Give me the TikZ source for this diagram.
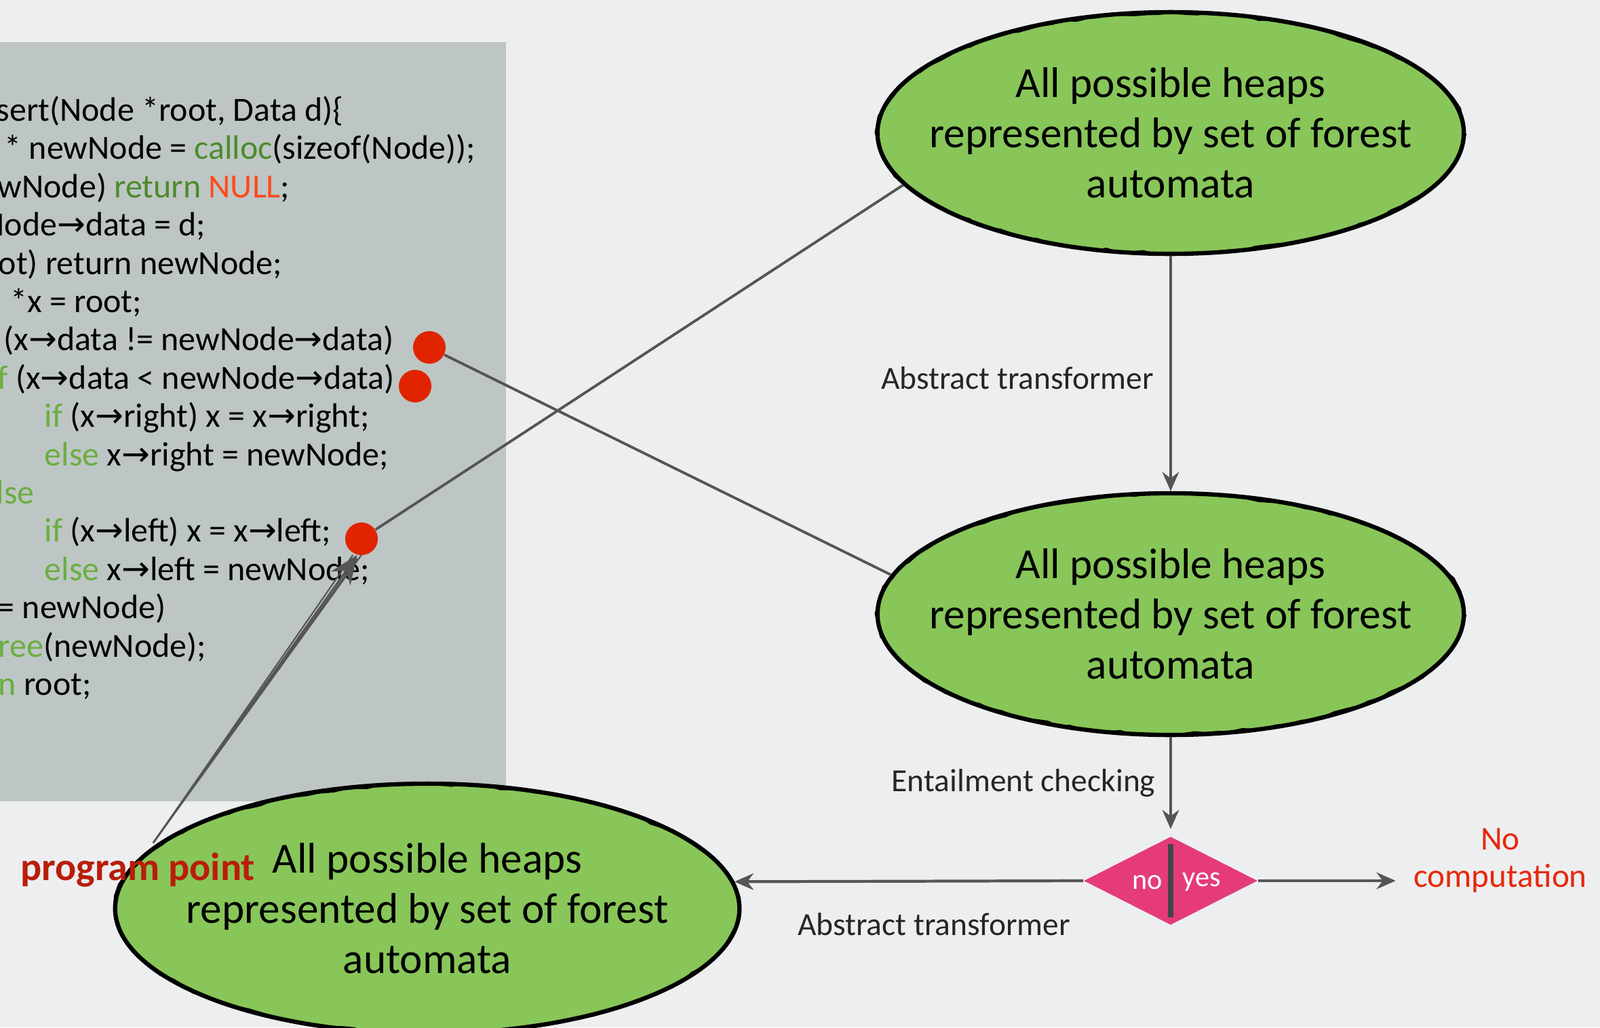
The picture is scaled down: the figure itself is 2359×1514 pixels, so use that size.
\documentclass[tikz,border=0pt]{standalone}
\usepackage{fontspec}
\setmainfont{Carlito}
\newfontfamily\arrowfont{DejaVu Sans}
\usetikzlibrary{shapes.geometric, arrows.meta, decorations.pathmorphing, positioning}
\definecolor{slidebg}{HTML}{EDEEF0}
\definecolor{codebg}{HTML}{BDC6C4}
\definecolor{heapgreen}{HTML}{88C659}
\definecolor{checkpink}{HTML}{E53B7A}
\definecolor{dotred}{HTML}{E12400}
\definecolor{linegray}{HTML}{555555}
\definecolor{kwgreen}{HTML}{6AAE3F}
\definecolor{fungreen}{HTML}{4E8A2C}
\definecolor{nullred}{HTML}{FF4B1F}
\definecolor{ppred}{HTML}{B81E0A}
\definecolor{nored}{HTML}{E8280A}
\newcommand{\pto}{{\arrowfont →}}
\newcommand{\kw}[1]{\textcolor{kwgreen}{#1}}

\begin{document}
\begin{tikzpicture}[x=0.01cm, y=-0.01cm,
  heapnode/.style={ellipse, draw=black, line width=1.8pt, fill=heapgreen, minimum width=8.64cm, minimum height=3.56cm},
  heaptext/.style={align=center, font=\fontsize{18}{21}\selectfont},
  roughline/.style={draw=black, line width=0.9pt, decorate, decoration={random steps, segment length=5pt, amplitude=0.7pt}},
  codeline/.style={anchor=mid west, inner sep=0pt, font=\fontsize{14.2}{16}\selectfont},
  bpdot/.style={circle, fill=dotred, minimum size=0.48cm, inner sep=0pt},
  linkline/.style={draw=linegray, line width=1.1pt},
  flowarrow/.style={draw=linegray, line width=1.2pt, -{Stealth[length=8pt, width=7pt]}},
  notelabel/.style={font=\fontsize{13.5}{16}\selectfont, text=black!85},
  brush/.style={draw=linegray, line width=0.6pt},
]
\fill[slidebg] (0,0) rectangle (2359,1514);
\useasboundingbox (0,0) rectangle (2359,1514);
\clip (0,0) rectangle (2359,1514);

% code panel
\fill[codebg] (0,62) rectangle (746,1181);
\node[codeline] (c1) at (-6,170) {sert(Node *root, Data d)\{};
\node[codeline] (c2) at (6,226) {* newNode = \textcolor{fungreen}{calloc}(sizeof(Node));};
\node[codeline] (c3) at (-4,283) {wNode) \textcolor{fungreen}{return} \textcolor{nullred}{NULL};};
\node[codeline] (c4) at (-26,339) {Node\pto data = d;};
\node[codeline] (c5) at (-3,396) {ot) return newNode;};
\node[codeline] (c6) at (15,452) {*x = root;};
\node[codeline] (c7) at (5,508) {(x\pto data != newNode\pto data)};
\node[codeline] (c8) at (-4,565) {\kw{f} (x\pto data < newNode\pto data)};
\node[codeline] (c9) at (65,621) {\kw{if} (x\pto right) x = x\pto right;};
\node[codeline] (c10) at (65,678) {\kw{else} x\pto right = newNode;};
\node[codeline] (c11) at (-6,734) {\kw{lse}};
\node[codeline] (c12) at (65,790) {\kw{if} (x\pto left) x = x\pto left;};
\node[codeline] (c13) at (65,847) {\kw{else} x\pto left = newNode;};
\node[codeline] (c14) at (-4,903) {= newNode)};
\node[codeline] (c15) at (-3,960) {\kw{ree}(newNode);};
\node[codeline] (c16) at (-3,1016) {\kw{n} root;};

% program points
\node[bpdot] (d1) at (633,512) {};
\node[bpdot] (d2) at (612,569) {};
\node[bpdot] (d3) at (533,794) {};
\coordinate (pstart) at (226,1242);
\draw[brush] (pstart) -- ([xshift=-1.8pt]d3.255);
\draw[brush] (pstart) -- ([xshift=1.8pt]d3.255);
\draw[brush] (pstart) -- ([yshift=-1.5pt]d3.255);
\draw[linegray, line width=0.8pt, -{Stealth[length=12pt, width=10pt]}] (pstart) -- (d3.255);

% heaps
\node[heapnode] (top) at (1726,196) {};
\draw[roughline] (top) ellipse [x radius=4.31cm, y radius=1.77cm];
\node[heaptext] (toptext) at (top) {All possible heaps\\represented by set of forest\\automata};
\node[heapnode] (mid) at (1726,905) {};
\draw[roughline] (mid) ellipse [x radius=4.31cm, y radius=1.77cm];
\node[heaptext] (midtext) at (mid) {All possible heaps\\represented by set of forest\\automata};
\node[heapnode, minimum width=9.2cm, minimum height=3.68cm] (bot) at (630,1339) {};
\draw[roughline] (bot) ellipse [x radius=4.59cm, y radius=1.83cm];
\node[heaptext] (bottext) at (bot) {All possible heaps\\represented by set of forest\\automata};
\node[anchor=west, text=ppred, font=\bfseries\fontsize{16.5}{18}\selectfont] (pp) at (18,1282) {program point};

% check
\node[diamond, fill=checkpink, minimum width=2.56cm, minimum height=1.3cm, inner sep=0pt] (dec) at (1726,1298) {};
\draw[linegray!80!black, line width=2pt] ([yshift=-0.12cm]dec.north) -- ([yshift=0.12cm]dec.south);
\node[text=white, font=\fontsize{12}{14}\selectfont] (no) at (1692,1300) {no};
\node[text=white, font=\fontsize{12}{14}\selectfont] (yes) at (1772,1300) {yes};
\node[align=center, text=nored, font=\fontsize{14}{15.5}\selectfont] (nocomp) at (2212,1268) {No\\computation};

% connectors
\draw[linkline] (top.191) -- (d3);
\draw[linkline] (mid.172) -- (d1);
\draw[flowarrow] (top.south) -- (mid.north);
\draw[flowarrow, shorten >=3pt] (mid.south) -- (dec.north);
\draw[flowarrow] (dec.west) -- (bot.5.4);
\draw[flowarrow, shorten >=4pt] (dec.east) -- (dec.east -| nocomp.west);
\node[notelabel] (at1) at (1500,557) {Abstract transformer};
\node[notelabel] (ec) at (1509,1154) {Entailment checking};
\node[notelabel] (at2) at (1377,1362) {Abstract transformer};
\end{tikzpicture}
\end{document}
